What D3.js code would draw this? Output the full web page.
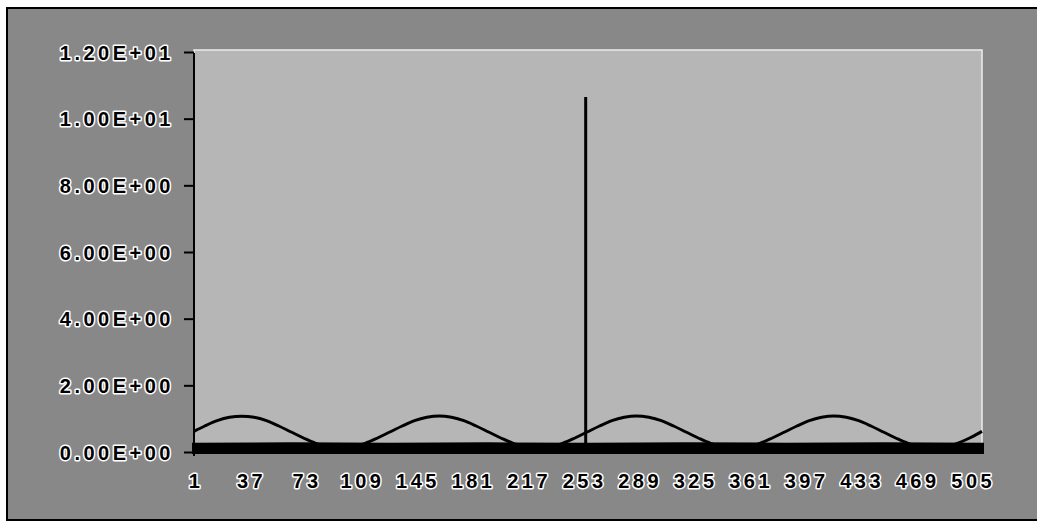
<!DOCTYPE html>
<html>
<head>
<meta charset="utf-8">
<script src="https://cdn.jsdelivr.net/npm/d3@7"></script>
<style>
  html, body { margin: 0; padding: 0; background: #ffffff; }
  svg { display: block; }
  .lbl {
    font-family: "Liberation Sans", Arial, sans-serif;
    font-weight: bold;
    font-size: 20px;
    letter-spacing: 3.5px;
    fill: #000;
    stroke: #fff;
    stroke-width: 3px;
    paint-order: stroke;
    stroke-linejoin: round;
  }
</style>
</head>
<body>
<svg id="chart" width="1037" height="525"></svg>
<script>
// Category axis: sample numbers 1..512, labelled every 36th
const categoryCount = 512;
const xTickLabels = [1, 37, 73, 109, 145, 181, 217, 253, 289, 325, 361, 397, 433, 469, 505];

// Value axis
const yTickValues = [0, 2, 4, 6, 8, 10, 12];
const yTickLabels = ["0.00E+00", "2.00E+00", "4.00E+00", "6.00E+00", "8.00E+00", "1.00E+01", "1.20E+01"];

// Smooth periodic series (read at every 8th sample)
const waveIndex = [1, 8, 16, 24, 32, 40, 48, 56, 64, 72, 80, 88, 96, 104, 112, 120,
  128, 136, 144, 152, 160, 168, 176, 184, 192, 200, 208, 216, 224, 232, 240, 248,
  256, 264, 272, 280, 288, 296, 304, 312, 320, 328, 336, 344, 352, 360, 368, 376,
  384, 392, 400, 408, 416, 424, 432, 440, 448, 456, 464, 472, 480, 488, 496, 504, 512];
const waveValue = [0.62, 0.78, 0.94, 1.04, 1.07, 1.04, 0.94, 0.78, 0.60, 0.42, 0.26, 0.16, 0.12, 0.16, 0.26, 0.42,
  0.60, 0.78, 0.94, 1.04, 1.08, 1.04, 0.94, 0.78, 0.60, 0.42, 0.26, 0.16, 0.12, 0.16, 0.26, 0.42,
  0.60, 0.78, 0.94, 1.04, 1.08, 1.04, 0.94, 0.78, 0.60, 0.42, 0.26, 0.16, 0.12, 0.16, 0.26, 0.42,
  0.60, 0.78, 0.94, 1.04, 1.08, 1.04, 0.94, 0.78, 0.60, 0.42, 0.26, 0.16, 0.12, 0.16, 0.26, 0.42, 0.62];

// Dense low-level series: min/max envelope of the noise floor
const floorIndex = [1, 64, 128, 192, 254, 258, 320, 384, 448, 512];
const floorLow   = [0, 0, 0, 0, 0, 0, 0, 0, 0, 0];
const floorHigh  = [0.22, 0.23, 0.22, 0.23, 0.22, 0.22, 0.23, 0.22, 0.23, 0.22];

// Single-sample peak
const spikeIndex = [255, 255];
const spikeValue = [0.2, 10.65];

const svg = d3.select("#chart");

// chart area
svg.append("rect")
  .attr("x", 7).attr("y", 8).attr("width", 1040).attr("height", 512)
  .attr("fill", "#888888").attr("stroke", "#000").attr("stroke-width", 2);

const plot = { left: 194, right: 982, top: 50, bottom: 452 };

const x = d3.scaleLinear().domain([1, categoryCount]).range([plot.left, plot.right]);
const y = d3.scaleLinear().domain([0, 12]).range([plot.bottom, 52]);

// plot area
svg.append("rect")
  .attr("x", plot.left).attr("y", plot.top)
  .attr("width", plot.right - plot.left).attr("height", plot.bottom - plot.top)
  .attr("fill", "#b6b6b6").attr("stroke", "#ececec").attr("stroke-width", 1.5);

// noise floor band
svg.append("path")
  .datum(floorIndex.map((d, i) => ({ i: d, lo: floorLow[i], hi: floorHigh[i] })))
  .attr("d", d3.area().x(d => x(d.i)).y0(d => y(d.lo)).y1(d => y(d.hi)))
  .attr("fill", "#000").attr("stroke", "#000").attr("stroke-width", 4);

// periodic series
svg.append("path")
  .datum(waveIndex.map((d, i) => ({ i: d, v: waveValue[i] })))
  .attr("d", d3.line().x(d => x(d.i)).y(d => y(d.v)).curve(d3.curveMonotoneX))
  .attr("fill", "none").attr("stroke", "#000").attr("stroke-width", 3);

// peak
svg.append("path")
  .datum(spikeIndex.map((d, i) => ({ i: d, v: spikeValue[i] })))
  .attr("d", d3.line().x(d => x(d.i)).y(d => y(d.v)))
  .attr("fill", "none").attr("stroke", "#000").attr("stroke-width", 3);

// value axis
const yAxis = d3.axisLeft(y).tickValues(yTickValues)
  .tickFormat((d, i) => yTickLabels[i]).tickSize(10).tickPadding(14);
const gy = svg.append("g").attr("transform", `translate(${plot.left},0)`).call(yAxis);
gy.select(".domain").attr("stroke", "#000").attr("stroke-width", 2)
  .attr("d", `M0,${plot.top + 3}V${plot.bottom + 4}`);
gy.selectAll(".tick line").attr("stroke", "#000").attr("stroke-width", 2);
gy.selectAll(".tick text").attr("class", "lbl").attr("dy", "0.36em").attr("dx", "4");

// category axis
svg.append("line")
  .attr("x1", plot.left).attr("x2", plot.right)
  .attr("y1", y(0)).attr("y2", y(0))
  .attr("stroke", "#000").attr("stroke-width", 2);
svg.append("g").selectAll("text")
  .data(xTickLabels)
  .join("text")
  .attr("class", "lbl")
  .attr("x", d => x(d) + 2)
  .attr("y", 488)
  .attr("text-anchor", "middle")
  .text(d => d);
</script>
</body>
</html>
